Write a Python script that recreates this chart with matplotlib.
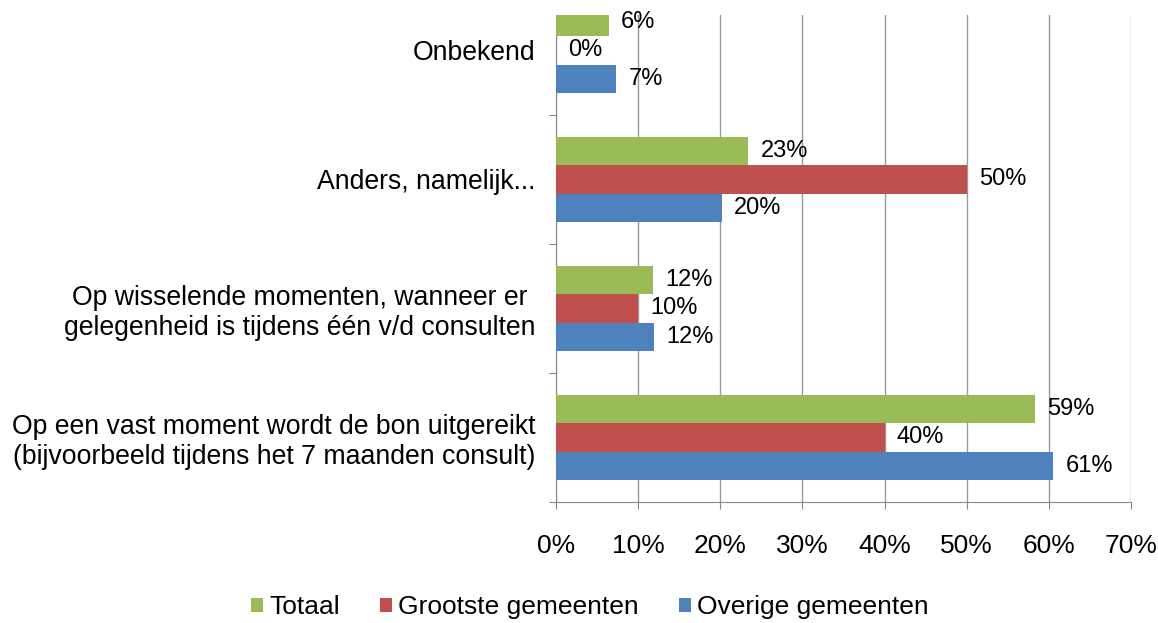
import matplotlib
matplotlib.use("Agg")
import matplotlib.pyplot as plt
import numpy as np
from matplotlib.ticker import FuncFormatter

plt.rcParams['font.family'] = ['Liberation Sans', 'DejaVu Sans']

# categories bottom -> top
categories = ["Op een vast moment wordt de bon uitgereikt\n(bijvoorbeeld tijdens het 7 maanden consult)",
              "Op wisselende momenten, wanneer er \ngelegenheid is tijdens één v/d consulten",
              "Anders, namelijk...",
              "Onbekend"]
series = ["Totaal", "Grootste gemeenten", "Overige gemeenten"]
totaal = [58.3, 11.8, 23.4, 6.4]
grootste = [40.0, 10.0, 50.0, 0.0]
overige = [60.5, 11.9, 20.2, 7.3]
totaal_lbl = ["59%", "12%", "23%", "6%"]
grootste_lbl = ["40%", "10%", "50%", "0%"]
overige_lbl = ["61%", "12%", "20%", "7%"]
colors = ["#9BBB59", "#C0504D", "#4F81BD"]

fig = plt.figure(figsize=(11.58, 6.23), dpi=100)
ax = fig.add_axes([556/1158, 1-502/623, (1131-556)/1158, (502-15)/623])

y = np.arange(len(categories))
h = 0.22
vals = [totaal, grootste, overige]
lbls = [totaal_lbl, grootste_lbl, overige_lbl]
offs = [h, 0, -h]
for v, l, o, c, name in zip(vals, lbls, offs, colors, series):
    bars = ax.barh(y + o, v, height=h, color=c, label=name, zorder=3)
    for b, t in zip(bars, l):
        ax.text(b.get_width() + 1.5, b.get_y() + h/2, t, va='center', ha='left',
                fontsize=17, zorder=4)

ax.set_xlim(0, 70)
ax.set_ylim(-0.5, 3.275)
ax.set_xticks(np.arange(0, 71, 10))
ax.xaxis.set_major_formatter(FuncFormatter(lambda x, p: "%d%%" % x))
ax.set_yticks(np.arange(-0.5, 3.3, 1.0))
ax.set_yticklabels([])
ax.set_yticks(y, minor=True)
ax.set_yticklabels(categories, minor=True, fontsize=19.2)
ax.tick_params(axis='y', which='minor', length=0, pad=15)
ax.tick_params(axis='y', which='major', length=5, color='#888888')
ax.tick_params(axis='x', length=5, color='#888888', labelsize=19, pad=18)
ax.grid(axis='x', color='#999999', linewidth=1, zorder=0)
for s in ['top', 'right']:
    ax.spines[s].set_visible(False)
for s in ['left', 'bottom']:
    ax.spines[s].set_color('#888888')

fig.legend(loc='center', bbox_to_anchor=(590/1158, 1-607/623), ncol=3, frameon=False,
           fontsize=19, handlelength=0.45, handleheight=0.45, handletextpad=0.25,
           columnspacing=1.5)

fig.savefig("out.png", dpi=100)
